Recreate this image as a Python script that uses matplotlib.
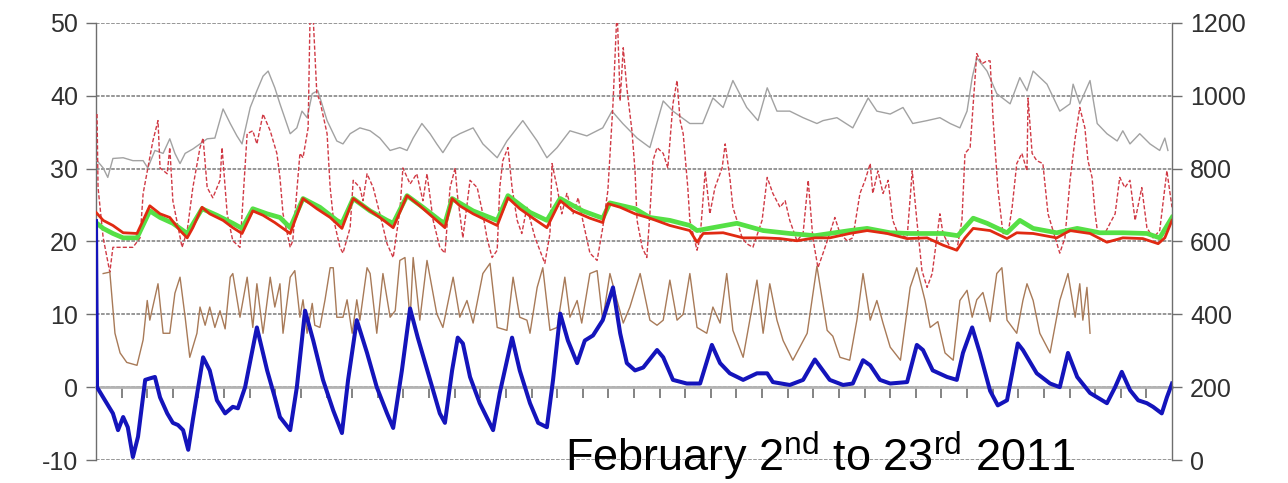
"""Indoor / outdoor monitoring, February 2nd to 23rd 2011."""

import matplotlib
matplotlib.use("Agg")
import matplotlib.pyplot as plt
import numpy as np

plt.rcParams["font.family"] = ["Liberation Sans", "DejaVu Sans"]
plt.rcParams["mathtext.fontset"] = "custom"
plt.rcParams["mathtext.rm"] = "Liberation Sans"
plt.rcParams["axes.unicode_minus"] = False

# x values are days since Feb 2nd 00:00
blue_day = [0.00, 0.02, 0.14, 0.33, 0.43, 0.53, 0.62, 0.72, 0.82, 0.96, 1.05, 1.15, 1.25, 1.39,
            1.50, 1.60, 1.70, 1.80, 1.89, 2.09, 2.22, 2.36, 2.52, 2.67, 2.77, 2.91, 3.14, 3.34,
            3.49, 3.59, 3.79, 3.92, 4.08, 4.24, 4.43, 4.63, 4.80, 4.92, 5.09, 5.29, 5.48, 5.68,
            5.80, 5.97, 6.13, 6.28, 6.52, 6.71, 6.81, 6.95, 7.06, 7.16, 7.30, 7.49, 7.75, 7.88,
            8.12, 8.27, 8.47, 8.63, 8.80, 8.92, 9.06, 9.21, 9.39, 9.54, 9.70, 9.89, 10.09, 10.23,
            10.36, 10.52, 10.68, 10.95, 11.07, 11.26, 11.53, 11.79, 12.02, 12.18, 12.37, 12.63,
            12.90, 13.10, 13.21, 13.54, 13.80, 14.03, 14.32, 14.58, 14.77, 14.97, 15.11, 15.30,
            15.50, 15.83, 16.02, 16.14, 16.33, 16.61, 16.80, 16.92, 17.10, 17.25, 17.45, 17.60,
            17.78, 17.99, 18.09, 18.36, 18.62, 18.81, 18.97, 19.15, 19.40, 19.73, 19.89, 20.02,
            20.18, 20.34, 20.51, 20.63, 20.80, 20.90, 21.00]
blue_val = [22.8, 0.0, -1.4, -3.6, -5.9, -4.1, -5.5, -9.6, -6.8, 1.0, 1.2, 1.4, -1.4, -3.6,
            -4.9, -5.2, -5.9, -8.6, -4.5, 4.1, 2.3, -1.8, -3.6, -2.7, -2.9, 0.0, 8.2, 2.3,
            -1.4, -4.1, -5.9, 0.0, 10.5, 6.4, 1.0, -3.2, -6.3, 1.0, 9.2, 4.7, 0.0, -3.6,
            -5.6, 2.3, 10.8, 6.8, 1.0, -3.6, -4.9, 2.3, 6.8, 6.0, 1.4, -2.2, -5.9, -0.8,
            6.8, 2.3, -2.2, -4.9, -5.5, 1.0, 10.1, 6.4, 3.3, 6.4, 7.1, 9.2, 13.7, 7.4,
            3.3, 2.3, 2.7, 5.1, 4.1, 1.0, 0.5, 0.5, 5.8, 3.3, 1.9, 1.0,
            1.9, 1.9, 0.7, 0.3, 1.0, 3.8, 1.0, 0.3, 0.5, 3.7, 3.0, 1.0,
            0.5, 0.7, 5.8, 5.1, 2.3, 1.4, 1.0, 4.7, 8.2, 4.7, -0.5, -2.5,
            -1.8, 6.0, 5.1, 1.9, 0.5, 0.0, 4.7, 1.4, -0.8, -2.2, 0.0, 2.1,
            -0.4, -1.8, -2.2, -2.7, -3.6, -1.4, 0.5]

red_day = [0.00, 0.14, 0.33, 0.53, 0.80, 0.92, 1.05, 1.25, 1.44, 1.64, 1.78, 1.89, 2.07, 2.22,
           2.48, 2.67, 2.85, 3.06, 3.26, 3.49, 3.79, 4.04, 4.31, 4.57, 4.80, 5.02, 5.29, 5.54,
           5.80, 6.07, 6.32, 6.58, 6.81, 6.95, 7.10, 7.36, 7.83, 8.04, 8.27, 8.53, 8.80, 9.06,
           9.31, 9.64, 9.89, 9.99, 10.23, 10.52, 10.81, 11.20, 11.59, 11.73, 11.85, 12.24,
           12.63, 13.02, 13.35, 13.68, 14.03, 14.32, 14.71, 15.05, 15.44, 15.83, 16.22, 16.53,
           16.80, 16.96, 17.12, 17.45, 17.78, 17.97, 18.29, 18.75, 19.01, 19.40, 19.73, 20.04,
           20.43, 20.73, 20.86, 21.00]
red_val = [24.0, 22.9, 22.2, 21.2, 21.1, 22.9, 24.9, 23.8, 23.3, 21.5, 20.5, 21.9, 24.7, 23.8,
           22.9, 21.9, 21.1, 24.2, 23.6, 22.6, 21.1, 25.9, 24.5, 23.3, 21.8, 25.9, 24.5, 23.3,
           21.9, 26.3, 24.9, 23.3, 21.9, 25.9, 24.9, 23.8, 22.2, 26.0, 24.5, 23.2, 21.9, 25.6,
           24.2, 23.2, 22.6, 25.2, 24.7, 23.8, 23.2, 22.2, 21.5, 19.9, 21.1, 21.2,
           20.5, 20.5, 20.4, 20.1, 20.5, 20.5, 21.1, 21.5, 21.1, 20.4, 20.5, 19.5,
           18.8, 20.5, 21.8, 21.5, 20.4, 21.2, 21.1, 20.5, 21.5, 21.1, 19.9, 20.5,
           20.4, 19.7, 20.5, 22.9]

green_day = [0.00, 0.14, 0.33, 0.53, 0.80, 1.05, 1.25, 1.50, 1.78, 2.07, 2.36, 2.67, 2.85, 3.06,
             3.34, 3.59, 3.79, 4.04, 4.37, 4.70, 4.80, 5.02, 5.35, 5.68, 5.80, 6.07, 6.38, 6.71,
             6.81, 6.95, 7.36, 7.83, 8.04, 8.47, 8.80, 9.06, 9.50, 9.89, 10.03, 10.52, 10.81,
             11.20, 11.59, 11.73, 12.04, 12.51, 13.02, 13.54, 14.03, 14.32, 14.71, 15.05, 15.50,
             15.89, 16.53, 16.82, 17.12, 17.39, 17.78, 18.03, 18.29, 18.75, 19.15, 19.59, 20.04,
             20.51, 20.76, 21.00]
green_val = [22.6, 21.8, 21.1, 20.5, 20.5, 24.2, 23.3, 22.5, 21.1, 24.5, 23.6, 22.5, 21.8, 24.5,
             23.8, 23.3, 21.9, 25.9, 24.7, 22.9, 22.5, 25.9, 24.2, 22.9, 22.5, 26.3, 24.7, 22.9,
             22.5, 25.9, 24.2, 22.9, 26.3, 24.0, 22.9, 25.9, 24.2, 23.2, 25.3, 24.5, 23.3,
             22.9, 22.2, 21.5, 21.9, 22.5, 21.5, 21.1, 20.8, 21.1, 21.5, 21.8, 21.2,
             21.1, 21.1, 20.8, 23.2, 22.5, 21.2, 22.9, 21.8, 21.2, 21.8, 21.2, 21.2,
             21.1, 20.5, 23.3]

gray_day = [0.02, 0.14, 0.23, 0.33, 0.53, 0.72, 0.92, 1.01, 1.15, 1.31, 1.44, 1.54, 1.64, 1.74,
            1.89, 2.03, 2.17, 2.32, 2.48, 2.62, 2.75, 2.85, 3.01, 3.14, 3.26, 3.36, 3.49, 3.59,
            3.79, 3.92, 4.02, 4.12, 4.22, 4.33, 4.51, 4.70, 4.82, 4.96, 5.15, 5.35, 5.54, 5.74,
            5.93, 6.07, 6.19, 6.36, 6.52, 6.65, 6.77, 6.95, 7.10, 7.36, 7.55, 7.83, 8.02, 8.33,
            8.61, 8.80, 9.00, 9.25, 9.58, 9.89, 10.07, 10.28, 10.56, 10.81, 11.07, 11.26, 11.59,
            11.84, 12.04, 12.24, 12.43, 12.70, 12.92, 13.10, 13.29, 13.54, 13.80, 14.07, 14.19,
            14.46, 14.77, 15.07, 15.24, 15.50, 15.75, 15.94, 16.22, 16.47, 16.67, 16.86, 17.00,
            17.10, 17.19, 17.39, 17.58, 17.84, 18.03, 18.17, 18.29, 18.56, 18.81, 19.01, 19.07,
            19.20, 19.40, 19.54, 19.73, 19.93, 20.04, 20.18, 20.37, 20.57, 20.76, 20.86, 20.92]
gray_val = [31.1, 30.1, 28.8, 31.4, 31.5, 31.1, 31.1, 30.1, 32.5, 32.1, 34.1, 32.1, 30.7, 32.1,
            32.7, 33.4, 34.1, 34.2, 38.2, 36.2, 34.5, 33.4, 38.4, 40.7, 42.7, 43.4, 41.1, 38.9,
            34.8, 35.6, 37.9, 37.0, 40.3, 40.7, 36.6, 33.8, 33.4, 34.8, 35.6, 35.2, 34.2, 32.5,
            32.9, 32.5, 34.2, 36.2, 34.8, 33.4, 32.2, 34.2, 34.8, 35.6, 33.4, 31.5, 33.8, 36.6,
            33.8, 31.5, 32.9, 35.2, 34.5, 35.6, 37.9, 36.2, 34.2, 32.9, 39.3, 37.9, 36.2,
            36.2, 39.7, 38.4, 42.1, 38.4, 36.6, 41.1, 37.9, 37.9, 37.0, 36.2, 36.6,
            37.0, 35.6, 39.7, 37.9, 37.5, 38.4, 36.2, 36.6, 37.0, 36.2, 35.6, 37.9,
            42.5, 45.2, 43.4, 40.3, 38.9, 42.5, 40.7, 43.4, 41.6, 37.9, 38.9, 41.6,
            38.9, 42.1, 36.2, 34.8, 33.8, 35.2, 33.4, 34.8, 33.4, 32.5, 34.2, 32.5]

dash_day = [0.02, 0.04, 0.14, 0.27, 0.33, 0.53, 0.72, 0.86, 0.92, 1.11, 1.21, 1.25, 1.39, 1.44,
            1.50, 1.68, 1.78, 1.89, 2.03, 2.09, 2.17, 2.28, 2.42, 2.46, 2.56, 2.67, 2.81, 2.95,
            3.06, 3.14, 3.26, 3.40, 3.53, 3.59, 3.65, 3.79, 3.84, 3.98, 4.04, 4.14, 4.18, 4.23,
            4.31, 4.37, 4.51, 4.57, 4.63, 4.76, 4.82, 4.96, 5.02, 5.15, 5.21, 5.29, 5.41, 5.54,
            5.68, 5.80, 5.93, 5.99, 6.13, 6.26, 6.38, 6.46, 6.58, 6.71, 6.81, 6.91, 7.01, 7.05,
            7.16, 7.30, 7.44, 7.55, 7.63, 7.73, 7.83, 7.88, 7.94, 8.04, 8.12, 8.22, 8.31, 8.41,
            8.57, 8.76, 8.86, 8.90, 9.00, 9.09, 9.19, 9.31, 9.41, 9.50, 9.64, 9.78, 9.89, 9.99,
            10.09, 10.17, 10.23, 10.29, 10.36, 10.46, 10.52, 10.56, 10.66, 10.75, 10.81, 10.87,
            10.95, 11.07, 11.16, 11.26, 11.34, 11.40, 11.46, 11.55, 11.59, 11.73, 11.79, 11.89,
            11.98, 12.08, 12.22, 12.28, 12.37, 12.43, 12.51, 12.61, 12.70, 12.82, 13.00, 13.10,
            13.21, 13.35, 13.45, 13.54, 13.68, 13.80, 13.90, 13.99, 14.09, 14.19, 14.32, 14.42,
            14.52, 14.66, 14.77, 14.91, 15.01, 15.11, 15.16, 15.26, 15.36, 15.46, 15.55, 15.65,
            15.83, 15.93, 16.02, 16.12, 16.22, 16.32, 16.41, 16.47, 16.53, 16.67, 16.80, 16.90,
            16.96, 17.06, 17.12, 17.19, 17.29, 17.39, 17.45, 17.51, 17.60, 17.70, 17.80, 17.88,
            17.97, 18.07, 18.17, 18.19, 18.27, 18.36, 18.48, 18.58, 18.72, 18.81, 18.91, 19.01,
            19.11, 19.20, 19.30, 19.36, 19.44, 19.50, 19.55, 19.69, 19.79, 19.89, 19.98, 20.08,
            20.18, 20.28, 20.41, 20.51, 20.63, 20.76, 20.90, 21.00]
dash_val = [37.5, 27.4, 20.5, 15.8, 19.2, 19.2, 19.2, 20.5, 26.6, 33.8, 36.6, 30.1, 29.3, 32.9,
            25.6, 19.2, 21.5, 27.4, 32.9, 34.2, 27.4, 26.0, 28.4, 32.9, 23.8, 20.1, 19.2, 34.8,
            35.2, 33.4, 37.5, 35.2, 32.1, 28.8, 23.8, 19.2, 20.1, 32.1, 31.5, 35.6, 52.0, 52.0,
            40.3, 39.3, 34.8, 27.4, 23.3, 19.2, 18.4, 21.9, 28.4, 27.4, 25.6, 29.3, 27.4, 23.8,
            19.7, 17.8, 24.2, 30.1, 27.9, 29.3, 25.6, 29.3, 22.9, 19.2, 18.4, 27.4, 30.1, 26.6,
            20.5, 28.4, 27.4, 23.8, 20.5, 17.8, 18.8, 27.4, 31.1, 32.9, 27.4, 22.9, 21.1, 24.7,
            20.5, 17.0, 21.1, 30.7, 27.4, 23.8, 26.6, 23.8, 26.0, 22.9, 18.4, 17.4, 21.9, 27.0,
            38.9, 52.0, 39.3, 46.6, 41.1, 35.2, 29.7, 22.9, 19.2, 17.8, 23.8, 31.1,
            32.9, 32.1, 30.1, 38.9, 42.1, 36.6, 34.8, 27.4, 22.9, 18.8, 20.5, 29.7,
            23.8, 27.4, 30.1, 33.4, 28.8, 24.7, 22.9, 20.5, 19.7, 19.2, 22.9, 28.8,
            26.6, 24.7, 25.6, 22.9, 20.1, 21.1, 28.4, 20.5, 16.4, 18.4, 21.1, 23.3,
            21.1, 20.1, 20.5, 26.6, 28.4, 30.7, 26.6, 29.7, 26.6, 28.4, 22.9, 21.1,
            20.5, 29.7, 22.9, 16.0, 13.7, 15.6, 20.5, 23.8, 21.1, 19.2, 18.8, 22.9,
            32.1, 32.9, 38.9, 45.8, 44.4, 44.8, 44.8, 36.6, 27.4, 21.1, 21.1, 24.7,
            30.7, 32.1, 29.7, 39.7, 32.1, 31.1, 30.7, 23.8, 20.5, 18.4, 20.5, 28.4,
            34.2, 38.4, 35.6, 31.1, 28.8, 23.8, 21.1, 21.1, 22.5, 23.8, 28.8, 27.4,
            28.4, 22.9, 27.4, 21.9, 20.5, 21.5, 29.7, 24.7]

brown_day = [0.14, 0.27, 0.37, 0.47, 0.60, 0.80, 0.92, 1.00, 1.05, 1.21, 1.31, 1.44, 1.54, 1.64,
             1.74, 1.83, 1.97, 2.03, 2.13, 2.22, 2.32, 2.42, 2.52, 2.62, 2.67, 2.81, 2.95, 3.06,
             3.14, 3.26, 3.40, 3.49, 3.59, 3.65, 3.79, 3.88, 3.98, 4.04, 4.12, 4.22, 4.27, 4.37,
             4.47, 4.57, 4.63, 4.70, 4.82, 4.90, 5.00, 5.09, 5.15, 5.29, 5.35, 5.48, 5.60, 5.74,
             5.84, 5.93, 6.03, 6.13, 6.19, 6.32, 6.46, 6.65, 6.77, 6.97, 7.10, 7.24, 7.36, 7.55,
             7.69, 7.83, 8.02, 8.14, 8.27, 8.41, 8.47, 8.61, 8.72, 8.86, 9.00, 9.15, 9.25, 9.39,
             9.48, 9.64, 9.78, 9.89, 10.03, 10.17, 10.29, 10.42, 10.62, 10.81, 10.95, 11.07,
             11.20, 11.34, 11.46, 11.59, 11.73, 11.92, 12.04, 12.18, 12.31, 12.43, 12.63, 12.76,
             12.90, 13.02, 13.15, 13.29, 13.41, 13.60, 13.88, 14.07, 14.27, 14.38, 14.52, 14.71,
             14.85, 14.97, 15.11, 15.24, 15.36, 15.50, 15.70, 15.89, 16.02, 16.18, 16.28, 16.43,
             16.57, 16.73, 16.86, 17.00, 17.10, 17.19, 17.31, 17.45, 17.58, 17.68, 17.78, 17.97,
             18.09, 18.17, 18.29, 18.42, 18.62, 18.81, 18.97, 19.11, 19.20, 19.26, 19.34, 19.40]
brown_val = [15.6, 15.8, 7.4, 4.7, 3.4, 3.0, 6.5, 11.9, 9.2, 14.2, 7.4, 7.4, 12.9, 15.1,
             9.6, 4.1, 7.4, 11.0, 8.5, 11.0, 8.2, 10.5, 8.0, 15.1, 15.6, 9.6, 15.1, 8.2,
             14.2, 7.4, 15.1, 11.0, 14.2, 7.4, 15.1, 16.0, 9.6, 12.0, 7.4, 11.5, 8.5, 8.2,
             12.0, 16.4, 16.4, 9.6, 9.6, 12.0, 7.4, 12.0, 9.2, 16.4, 15.6, 7.4, 15.6, 9.6,
             10.5, 17.4, 17.8, 9.2, 17.8, 9.2, 17.4, 10.1, 8.2, 15.1, 9.6, 11.9, 8.8, 15.6,
             17.0, 8.2, 7.8, 15.1, 9.6, 9.2, 7.4, 13.7, 16.4, 7.8, 8.2, 15.1, 9.6, 11.9,
             8.8, 15.6, 16.0, 9.2, 15.6, 11.9, 8.8, 11.0, 15.6, 9.2, 8.5, 9.2,
             14.7, 9.2, 10.0, 15.6, 8.2, 7.4, 11.0, 8.8, 15.6, 7.8, 4.1, 9.2,
             14.7, 7.4, 14.2, 9.2, 6.4, 3.7, 7.4, 16.6, 7.8, 7.0, 4.1, 3.7,
             9.2, 15.6, 9.2, 11.9, 8.8, 5.5, 3.7, 13.7, 16.4, 11.9, 8.2, 9.0,
             4.7, 3.7, 11.9, 13.3, 9.6, 12.0, 13.0, 9.0, 15.6, 16.4, 9.2, 7.4,
             11.9, 14.2, 11.9, 7.4, 4.7, 11.9, 15.6, 9.6, 14.2, 9.2, 13.7, 7.4]

left_ticks = [-10, 0, 10, 20, 30, 40, 50]
right_ticks = [0, 200, 400, 600, 800, 1000, 1200]
x_ticks = np.arange(0.5, 21.0, 0.5)

fig = plt.figure(figsize=(12.88, 4.83), dpi=100)
ax = fig.add_axes([96 / 1288, 1 - 460 / 483, 1076 / 1288, 437 / 483])
ax2 = ax.twinx()

ax.plot(gray_day, gray_val, color="#a2a2a2", lw=1.0, zorder=3)
ax.plot(dash_day, dash_val, color="#d03a45", lw=1.0, dashes=(3, 1.5), zorder=3)
ax.plot(brown_day, brown_val, color="#a87a58", lw=1.0, zorder=3)
ax.plot(green_day, green_val, color="#55e045", lw=3.4, zorder=4)
ax.plot(red_day, red_val, color="#e02a12", lw=2.0, zorder=5)
ax.plot(blue_day, blue_val, color="#1414bb", lw=2.9, zorder=6)

ax.set_xlim(0, 21)
ax.set_ylim(-10, 50)
ax2.set_ylim(0, 1200)
ax.set_yticks(left_ticks)
ax2.set_yticks(right_ticks)
ax.set_xticks(x_ticks)
ax.set_xticklabels([])

ax.grid(axis="y", color="#8f8f8f", lw=1.3, linestyle=(0, (2, 0.8)), zorder=1)
ax.set_axisbelow(True)

grey = "#6e6e6e"
ax.spines["bottom"].set_position(("data", 0))
ax.spines["bottom"].set_color("#b4b4b4")
ax.spines["bottom"].set_linewidth(2.0)
ax.spines["top"].set_visible(False)
ax2.spines["top"].set_visible(False)
ax2.spines["bottom"].set_visible(False)
for sp in (ax.spines["left"], ax2.spines["right"]):
    sp.set_color(grey)
    sp.set_linewidth(1.0)
ax.spines["right"].set_visible(False)
ax2.spines["left"].set_visible(False)

ax.xaxis.set_ticks_position("bottom")
ax.tick_params(axis="x", which="major", bottom=True, direction="out", length=8,
               width=1.2, color=grey)
ax.tick_params(axis="y", direction="out", length=7, width=1, color=grey,
               labelsize=18, labelcolor="#303030", pad=6)
ax2.tick_params(axis="y", direction="out", length=7, width=1, color=grey,
                labelsize=18, labelcolor="#303030", pad=6)

fig.text(565 / 1288, 1 - 471 / 483,
         r"February 2$^{\mathrm{nd}}$ to 23$^{\mathrm{rd}}$ 2011",
         fontsize=32.5, color="black", ha="left", va="baseline")

fig.savefig("out.png", dpi=100)
